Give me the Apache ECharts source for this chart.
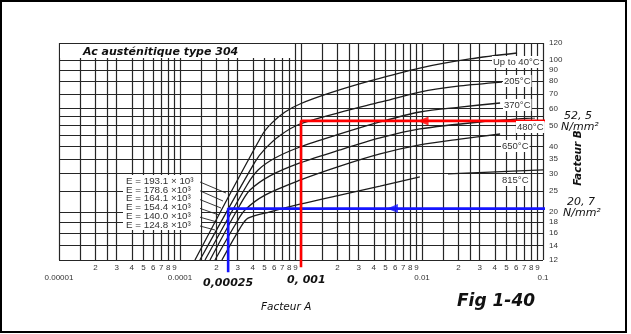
<!DOCTYPE html>
<html>
<head>
<meta charset="utf-8">
<script src="https://cdn.jsdelivr.net/npm/echarts@6/dist/echarts.min.js"></script>
<style>
  html, body { margin: 0; padding: 0; background: #fff; }
  #chart { width: 631px; height: 334px; }
</style>
</head>
<body>
<div id="chart"></div>
<script>
// Facteur A / Facteur B (N/mm²) pairs along each temperature curve
const curve40  = [[1.33e-4, 12], [4.77e-4, 45.2], [5.75e-4, 51.4], [7.38e-4, 57.7], [9.8e-4, 62.8], [1.74e-3, 70.6], [3.72e-3, 80.2], [9.6e-3, 92.0], [0.0249, 101.3], [0.061, 107.9]];
const curve205 = [[1.46e-4, 12], [4.17e-4, 34.0], [5.04e-4, 39.0], [6.70e-4, 45.0], [9.8e-4, 50.8], [2.10e-3, 57.5], [4.5e-3, 64.0], [9.6e-3, 71.3], [0.0206, 76.1], [0.0458, 79.3]];
const curve370 = [[1.61e-4, 12], [3.58e-4, 26.6], [4.42e-4, 31.2], [6.10e-4, 35.4], [9.8e-4, 39.8], [2.10e-3, 45.7], [4.5e-3, 51.9], [9.6e-3, 57.7], [0.0206, 60.8], [0.0442, 63.5]];
const curve480 = [[1.77e-4, 12], [3.13e-4, 21.5], [3.79e-4, 25.2], [5.54e-4, 29.3], [9.8e-4, 33.6], [2.10e-3, 38.6], [4.5e-3, 43.8], [9.6e-3, 48.2], [0.0301, 51.9], [0.0859, 54.2]];
const curve650 = [[1.945e-4, 12], [2.85e-4, 17.4], [3.44e-4, 20.4], [5.04e-4, 23.9], [9.8e-4, 28.0], [2.10e-3, 32.5], [4.5e-3, 37.0], [9.6e-3, 40.7], [0.0206, 43.3], [0.0442, 45.7]];
const curve815 = [[2.22e-4, 12], [3.13e-4, 16.8], [3.65e-4, 18.7], [5.54e-4, 20.0], [9.8e-4, 21.7], [2.10e-3, 23.9], [4.5e-3, 26.3], [9.6e-3, 29.0], [0.012, '-'], [0.0164, 29.9], [0.0365, 30.5], [0.1, 31.2]];

const curveNames = ['Up to 40°C', '205°C', '370°C', '480°C', '650°C', '815°C'];
const modulusLabels = ['E = 193.1 × 10³', 'E = 178.6 ×10³', 'E = 164.1 ×10³', 'E = 154.4 ×10³', 'E = 140.0 ×10³', 'E = 124.8 ×10³'];

// worked examples: factor A read up to the curve, then across to factor B
const exampleA1 = 0.00025, exampleB1 = 20.7;
const exampleA2 = 0.001,   exampleB2 = 52.5;

// axis ticks
const xMantissas = [1, 1.5, 2, 2.5, 3, 4, 5, 6, 7, 8, 9];
const xDecades = [1e-5, 1e-4, 1e-3, 1e-2];
const xDigitTicks = [2, 3, 4, 5, 6, 7, 8, 9];
const xDecadeTicks = [1e-5, 1e-4, 1e-2, 1e-1];
const xDecadeNames = ['0.00001', '0.0001', '0.01', '0.1'];
const yGridTicks = [12, 14, 16, 18, 20, 25, 30, 35, 40, 45, 50, 55, 60, 70, 80, 90, 100, 120];
const yLabelTicks = [12, 14, 16, 18, 20, 25, 30, 35, 40, 50, 60, 70, 80, 90, 100, 120];

const xGrid = [];
xDecades.forEach(d => xMantissas.forEach(m => xGrid.push(+(m * d).toPrecision(6))));
xGrid.push(0.1);
const xDigitValues = [];
xDecades.forEach(d => xDigitTicks.forEach(m => xDigitValues.push(+(m * d).toPrecision(6))));

const leadDigit = v => Math.round(v / Math.pow(10, Math.floor(Math.log10(v) + 1e-9)));

const chart = echarts.init(document.getElementById('chart'), null, { renderer: 'canvas' });

const gridColor = '#262626';
const labelFont = { fontFamily: 'Liberation Sans, Arial, sans-serif', fontSize: 8, color: '#333' };
const handFont = { fontFamily: 'DejaVu Sans', fontStyle: 'italic', fontWeight: 'bold' };

const curveSeries = [curve40, curve205, curve370, curve480, curve650, curve815].map((d, i) => ({
  name: curveNames[i],
  type: 'line',
  data: d,
  symbol: 'none',
  smooth: 0.3,
  lineStyle: { color: '#1c1c1c', width: 1.3 },
  silent: true,
  z: 3
}));

function exampleSeries(a, b, aEnd, bStart, color, arrowA) {
  return [{
    type: 'line',
    data: [[a, bStart], [a, b], [aEnd, b]],
    symbol: 'none',
    clip: false,
    lineStyle: { color: color, width: 2.6 },
    silent: true,
    z: 6
  }, {
    type: 'scatter',
    data: [[arrowA, b]],
    symbol: 'triangle',
    symbolSize: [9, 11],
    symbolRotate: 90,
    itemStyle: { color: color },
    silent: true,
    z: 7
  }];
}

const option = {
  animation: false,
  backgroundColor: '#fff',
  grid: { left: 59, top: 43, width: 484, height: 217, containLabel: false },
  xAxis: [{
    type: 'log', logBase: 10, min: 1e-5, max: 0.1,
    position: 'bottom',
    axisLine: { show: false },
    axisTick: { show: false, customValues: xGrid },
    splitLine: { show: true, lineStyle: { color: gridColor, width: 1.2 } },
    axisLabel: Object.assign({ customValues: xDigitValues, margin: 4, formatter: v => String(leadDigit(v)) }, labelFont)
  }, {
    type: 'log', logBase: 10, min: 1e-5, max: 0.1,
    position: 'bottom', offset: 10,
    axisLine: { show: false },
    axisTick: { show: false },
    splitLine: { show: false },
    axisLabel: Object.assign({
      customValues: xDecadeTicks, margin: 4,
      formatter: v => xDecadeNames[xDecadeTicks.findIndex(t => Math.abs(Math.log10(t) - Math.log10(v)) < 1e-6)] || ''
    }, labelFont)
  }],
  yAxis: {
    type: 'log', logBase: 10, min: 12, max: 120,
    position: 'right',
    axisLine: { show: false },
    axisTick: { show: false, customValues: yGridTicks },
    splitLine: { show: true, lineStyle: { color: gridColor, width: 1.2 } },
    axisLabel: Object.assign({ customValues: yLabelTicks, margin: 6, align: 'left' }, labelFont)
  },
  series: curveSeries
    .concat(exampleSeries(exampleA1, exampleB1, 0.11, 10.55, '#1414ff', 0.0057))
    .concat(exampleSeries(exampleA2, exampleB2, 0.1256, 11.1, '#ff0000', 0.0102))
};

chart.setOption(option);

// overlay annotations
const g = [];
// outer frame
g.push({ type: 'rect', z: 200, shape: { x: 1, y: 1, width: 625, height: 331 }, style: { fill: 'none', stroke: '#000', lineWidth: 2 } });
// title band
g.push({ type: 'rect', z: 100, shape: { x: 60, y: 44, width: 234, height: 14 }, style: { fill: '#fff' } });
g.push({ type: 'text', z: 101, x: 83, y: 52, style: Object.assign({ text: 'Ac austénitique type 304', fontSize: 11, fill: '#111', verticalAlign: 'middle' }, handFont) });

// modulus legend box with leader lines
g.push({ type: 'rect', z: 100, shape: { x: 123, y: 175, width: 78, height: 55 }, style: { fill: '#fff' } });
const leaderTips = [[226, 193], [223, 201], [221, 208], [219, 215], [217, 222], [215, 230]];
modulusLabels.forEach((t, i) => {
  const y = 181 + i * 8.8;
  g.push({ type: 'text', z: 101, x: 126, y: y, style: { text: t, fontFamily: 'Liberation Sans, Arial, sans-serif', fontSize: 9.8, fill: '#333', verticalAlign: 'middle' } });
  g.push({ type: 'line', z: 101, shape: { x1: 200, y1: y + 1, x2: leaderTips[i][0], y2: leaderTips[i][1] }, style: { stroke: '#222', lineWidth: 0.9 } });
});

// temperature labels at the curve ends
const tempLabelPos = [[492, 62], [503, 81], [503, 105], [516, 127], [501, 146], [501, 180]];
curveNames.forEach((t, i) => {
  g.push({ type: 'text', z: 101, x: tempLabelPos[i][0], y: tempLabelPos[i][1], style: { text: t, fontFamily: 'Liberation Sans, Arial, sans-serif', fontSize: 9.5, fill: '#333', verticalAlign: 'middle', backgroundColor: '#fff', padding: [1, 1] } });
});

// hand-written readings
g.push({ type: 'text', z: 101, x: 203, y: 283, style: Object.assign({ text: '0,00025', fontSize: 11, fill: '#111', verticalAlign: 'middle' }, handFont) });
g.push({ type: 'text', z: 101, x: 287, y: 280, style: Object.assign({ text: '0, 001', fontSize: 11, fill: '#111', verticalAlign: 'middle' }, handFont) });
g.push({ type: 'text', z: 101, x: 564, y: 116, style: { text: '52, 5', fontFamily: 'DejaVu Sans', fontStyle: 'italic', fontSize: 11, fill: '#111', verticalAlign: 'middle' } });
g.push({ type: 'text', z: 101, x: 561, y: 127, style: { text: 'N/mm²', fontFamily: 'DejaVu Sans', fontStyle: 'italic', fontSize: 11, fill: '#111', verticalAlign: 'middle' } });
g.push({ type: 'text', z: 101, x: 567, y: 202, style: { text: '20, 7', fontFamily: 'DejaVu Sans', fontStyle: 'italic', fontSize: 11, fill: '#111', verticalAlign: 'middle' } });
g.push({ type: 'text', z: 101, x: 563, y: 213, style: { text: 'N/mm²', fontFamily: 'DejaVu Sans', fontStyle: 'italic', fontSize: 11, fill: '#111', verticalAlign: 'middle' } });
g.push({ type: 'text', z: 101, x: 261, y: 307, style: { text: 'Facteur A', fontFamily: 'DejaVu Sans', fontStyle: 'italic', fontSize: 10.5, fill: '#111', verticalAlign: 'middle' } });
g.push({ type: 'text', z: 101, x: 578, y: 158, rotation: Math.PI / 2, style: Object.assign({ text: 'Facteur B', fontSize: 10.5, fill: '#111', align: 'center', verticalAlign: 'middle' }, handFont) });
g.push({ type: 'text', z: 101, x: 457, y: 302, style: Object.assign({ text: 'Fig 1-40', fontSize: 17, fill: '#111', verticalAlign: 'middle' }, handFont) });

chart.setOption({ graphic: g });
</script>
</body>
</html>
